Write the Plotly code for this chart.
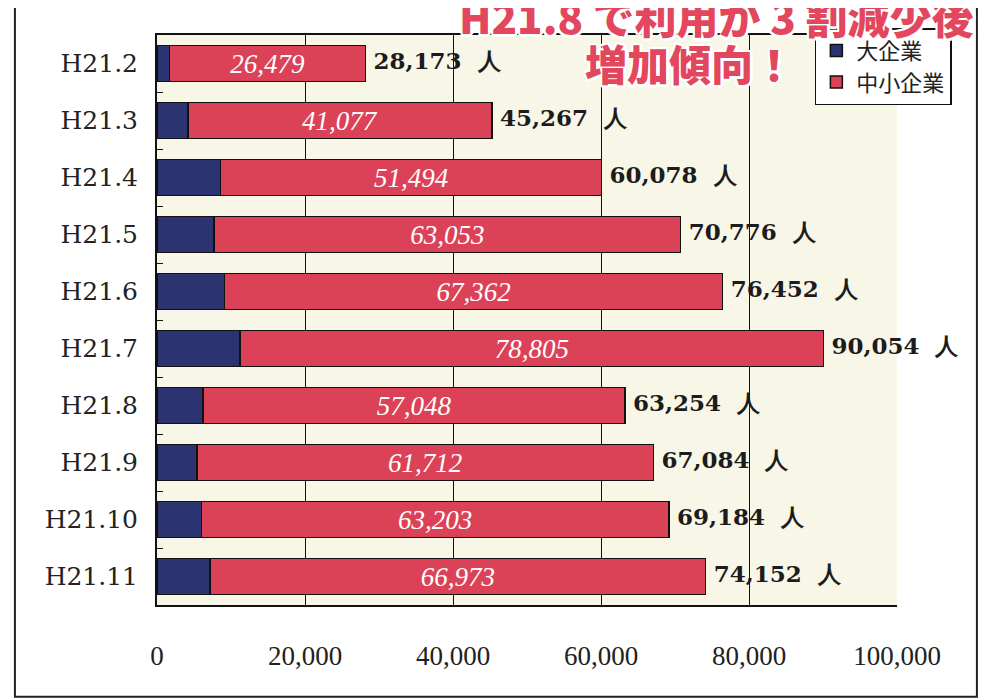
import plotly.graph_objects as go

months = ["H21.2", "H21.3", "H21.4", "H21.5", "H21.6", "H21.7", "H21.8", "H21.9", "H21.10", "H21.11"]
sme = [26479, 41077, 51494, 63053, 67362, 78805, 57048, 61712, 63203, 66973]
totals = [28173, 45267, 60078, 70776, 76452, 90054, 63254, 67084, 69184, 74152]
# large companies = total minus SME
large = [t - s for t, s in zip(totals, sme)]

NAVY = "#2b3470"
RED = "#dc4257"
OUTLINE = "2px 2px 0 white, -2px -2px 0 white, 2px -2px 0 white, -2px 2px 0 white, 0 3px 0 white, 3px 0 0 white"

fig = go.Figure()
fig.add_trace(go.Bar(
    y=months, x=large, orientation="h", name="大企業",
    marker=dict(color=NAVY, line=dict(color="#111", width=1.5)),
))
fig.add_trace(go.Bar(
    y=months, x=sme, orientation="h", name="中小企業",
    marker=dict(color=RED, line=dict(color="#111", width=1.5)),
    texttemplate="%{x:,}", textposition="inside", insidetextanchor="middle",
    textangle=0, constraintext="none",
    textfont=dict(family="Liberation Serif", size=27, color="white", style="italic"),
))
fig.add_trace(go.Scatter(
    y=months, x=totals, mode="text", showlegend=False, cliponaxis=False,
    text=[f" {t:,}  人" for t in totals], textposition="middle right",
    textfont=dict(family="DejaVu Serif", size=23, color="#1c1c1c", weight="bold"),
))

# headline in red with white outline
fig.add_annotation(
    xref="paper", yref="paper", x=0.755, y=1.035, xanchor="center", yanchor="middle",
    showarrow=False, text="H21.8 で利用が 3 割減少後",
    font=dict(family="Noto Sans CJK JP", size=42, color="#e2475d", weight=900, shadow=OUTLINE),
)
fig.add_annotation(
    xref="paper", yref="paper", x=0.72, y=0.952, xanchor="center", yanchor="middle",
    showarrow=False, text="増加傾向！",
    font=dict(family="Noto Sans CJK JP", size=42, color="#e2475d", weight=900, shadow=OUTLINE),
)

# outer frame of the figure
fig.add_shape(type="path", xref="paper", yref="paper",
              path="M -0.192,1.1 L -0.192,-0.161 L 1.108,-0.161 L 1.108,1.1",
              line=dict(color="#222", width=2))

fig.update_layout(
    width=990, height=700,
    margin=dict(l=149, r=101, t=27, b=103),
    barmode="stack", bargap=0.37,
    paper_bgcolor="white", plot_bgcolor="#f8f6e7",
    legend=dict(
        x=0.889, y=1.012, xanchor="left", yanchor="top", traceorder="normal",
        bgcolor="white", bordercolor="#111", borderwidth=1.5,
        font=dict(family="Noto Sans CJK JP", size=22, color="#222"),
        itemwidth=30,
    ),
)
fig.update_xaxes(
    range=[0, 100000], dtick=20000, tickformat=",",
    showgrid=True, gridcolor="#111", gridwidth=1.3, zeroline=False,
    showline=True, linecolor="#111", linewidth=2, mirror=True,
    ticks="", ticklabelstandoff=26,
    tickfont=dict(family="Liberation Serif", size=27, color="#222"),
)
fig.update_yaxes(
    autorange="reversed", showline=True, linecolor="#111", linewidth=2,
    ticks="inside", tickson="boundaries", ticklen=6, tickcolor="#111",
    ticklabelstandoff=12,
    tickfont=dict(family="DejaVu Serif", size=25, color="#222"),
)

fig.write_html("out.html")
